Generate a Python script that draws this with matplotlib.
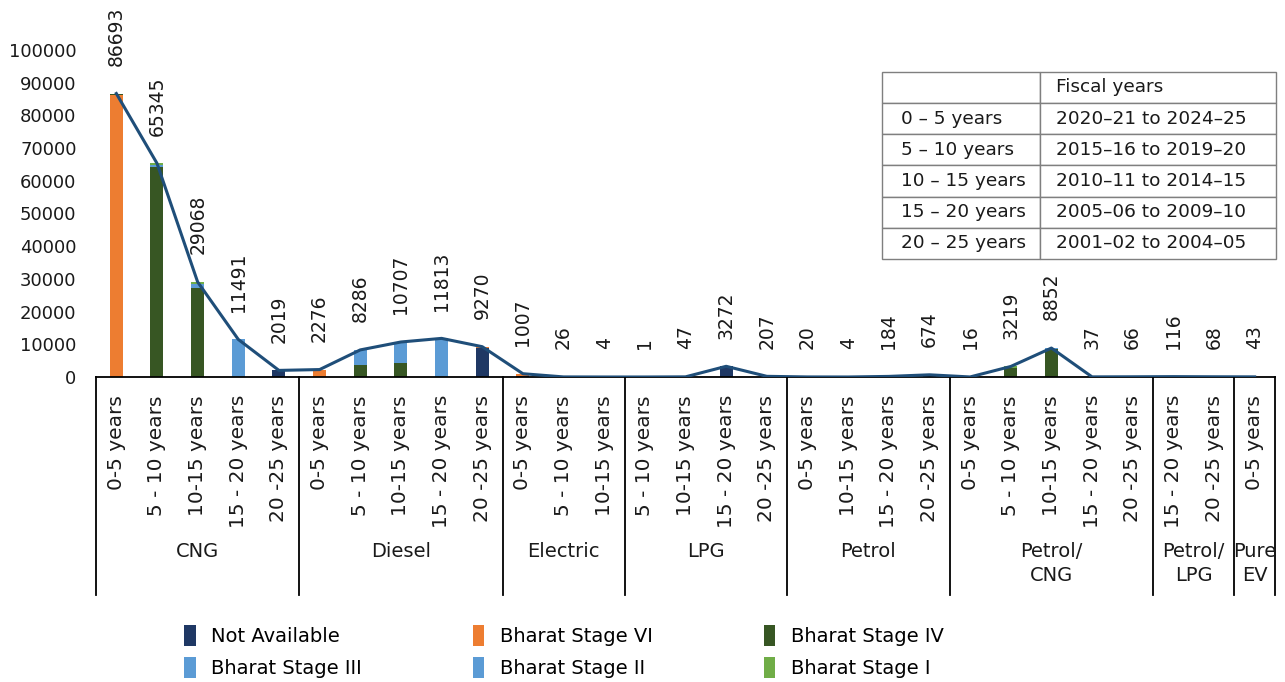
import numpy as np
import matplotlib.pyplot as plt
from matplotlib.patches import Patch

plt.rcParams['font.family'] = ['DejaVu Sans']

# Fuel groups and their vehicle-age buckets
groups = ['CNG', 'Diesel', 'Electric', 'LPG', 'Petrol', 'Petrol/\nCNG', 'Petrol/\nLPG', 'Pure\nEV']
ages = [
    ['0-5 years', '5 - 10 years', '10-15 years', '15 - 20 years', '20 -25 years'],
    ['0-5 years', '5 - 10 years', '10-15 years', '15 - 20 years', '20 -25 years'],
    ['0-5 years', '5 - 10 years', '10-15 years'],
    ['5 - 10 years', '10-15 years', '15 - 20 years', '20 -25 years'],
    ['0-5 years', '10-15 years', '15 - 20 years', '20 -25 years'],
    ['0-5 years', '5 - 10 years', '10-15 years', '15 - 20 years', '20 -25 years'],
    ['15 - 20 years', '20 -25 years'],
    ['0-5 years'],
]

# Vehicle counts per emission norm (same order as the flattened age buckets)
not_available = [0, 0, 0, 0, 2019,
                 0, 0, 0, 0, 9000,
                 407, 26, 0,
                 0, 0, 3272, 207,
                 0, 0, 0, 674,
                 0, 0, 0, 0, 66,
                 0, 68,
                 43]
bs_vi = [86193, 0, 0, 0, 0,
         2276, 0, 0, 0, 270,
         600, 0, 0,
         0, 0, 0, 0,
         20, 0, 0, 0,
         16, 0, 0, 0, 0,
         0, 0,
         0]
bs_iv = [300, 64345, 27168, 0, 0,
         0, 3600, 4400, 0, 0,
         0, 0, 4,
         1, 47, 0, 0,
         0, 4, 0, 0,
         0, 2800, 8500, 0, 0,
         0, 0,
         0]
bs_iii = [0, 600, 1400, 11491, 0,
          0, 4686, 6307, 11813, 0,
          0, 0, 0,
          0, 0, 0, 0,
          0, 0, 184, 0,
          0, 0, 352, 37, 0,
          116, 0,
          0]
bs_ii = [0] * 29
bs_i = [200, 400, 500, 0, 0,
        0, 0, 0, 0, 0,
        0, 0, 0,
        0, 0, 0, 0,
        0, 0, 0, 0,
        0, 419, 0, 0, 0,
        0, 0,
        0]

series = [
    ('Not Available', not_available, '#1F3864'),
    ('Bharat Stage VI', bs_vi, '#ED7D31'),
    ('Bharat Stage IV', bs_iv, '#375623'),
    ('Bharat Stage III', bs_iii, '#5B9BD5'),
    ('Bharat Stage II', bs_ii, '#5B9BD5'),
    ('Bharat Stage I', bs_i, '#70AD47'),
]

# Reference table of age buckets -> fiscal years
table_rows = [
    ['', 'Fiscal years'],
    ['0 – 5 years', '2020–21 to 2024–25'],
    ['5 – 10 years', '2015–16 to 2019–20'],
    ['10 – 15 years', '2010–11 to 2014–15'],
    ['15 – 20 years', '2005–06 to 2009–10'],
    ['20 – 25 years', '2001–02 to 2004–05'],
]

labels = [a for grp in ages for a in grp]
n = len(labels)
x = np.arange(n)
totals = np.sum([s[1] for s in series], axis=0)

txt = '#1A1A1A'
fig = plt.figure(figsize=(12.85, 6.82), dpi=100)
ax = fig.add_axes([96 / 1285, 305 / 682, 1179 / 1285, 327 / 682])

bottom = np.zeros(n)
handles = {}
for name, vals, col in series:
    vals = np.array(vals, dtype=float)
    ax.bar(x, vals, width=0.32, bottom=bottom, color=col, zorder=2)
    handles[name] = Patch(facecolor=col, edgecolor='none')
    bottom += vals

ax.plot(x, totals, color='#1F4E79', lw=2.2, zorder=3)

for xi, t in zip(x, totals):
    ax.annotate(f'{int(t)}', (xi, t), xytext=(0, 20), textcoords='offset points',
                rotation=90, ha='center', va='bottom', fontsize=13.5, color=txt,
                annotation_clip=False)

ax.set_xlim(-0.5, n - 0.5)
ax.set_ylim(0, 100000)
ax.set_yticks(np.arange(0, 100001, 10000))
ax.tick_params(axis='y', length=0, pad=14, labelsize=13, labelcolor=txt)
ax.set_xticks([])
for side in ['left', 'right', 'top']:
    ax.spines[side].set_visible(False)
ax.spines['bottom'].set_linewidth(1.3)

# Two-level category axis
trans = ax.get_xaxis_transform()
for xi, lab in zip(x, labels):
    ax.annotate(lab, (xi, 0), xycoords=trans, xytext=(0, -13), textcoords='offset points',
                rotation=90, ha='center', va='top', fontsize=14.5, color=txt)

edges = [-0.5]
for grp in ages:
    edges.append(edges[-1] + len(grp))
for e in edges:
    ax.plot([e, e], [0, -0.667], transform=trans, color='black', lw=1.3, clip_on=False)
for i, g in enumerate(groups):
    mid = (edges[i] + edges[i + 1]) / 2
    ax.text(mid, -0.505, g, transform=trans, ha='center', va='top', fontsize=14,
            color=txt, linespacing=1.3)

# Fiscal year lookup table
tbl = ax.table(cellText=table_rows, cellLoc='left', bbox=[0.6667, 0.361, 0.334, 0.572],
               colWidths=[0.4, 0.6])
tbl.auto_set_font_size(False)
tbl.set_fontsize(13.3)
for (r, c), cell in tbl.get_celld().items():
    cell.set_edgecolor('#7F7F7F')
    cell.set_linewidth(1.0)
    cell.PAD = 0.12 if c == 0 else 0.07
    cell.get_text().set_color(txt)

order = ['Not Available', 'Bharat Stage III', 'Bharat Stage VI',
         'Bharat Stage II', 'Bharat Stage IV', 'Bharat Stage I']
fig.legend([handles[k] for k in order], order, ncol=3, loc='upper left',
           bbox_to_anchor=(184 / 1285, 1 - 625 / 682), frameon=False,
           fontsize=14, handlelength=0.6, handleheight=1.3, handletextpad=0.8,
           columnspacing=5.7, labelspacing=0.55, borderpad=0, borderaxespad=0)

fig.savefig('out.png', dpi=100)
